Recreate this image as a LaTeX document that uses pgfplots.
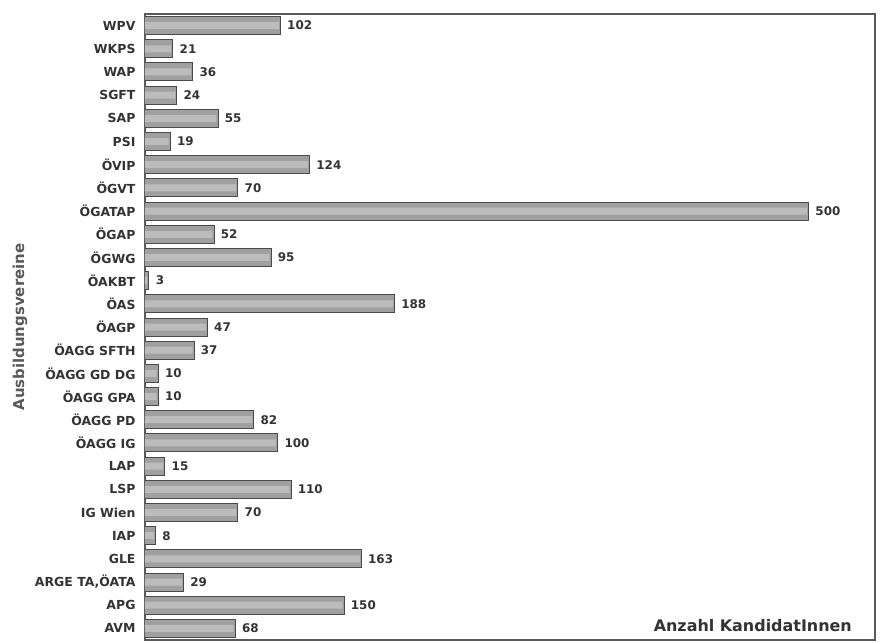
\documentclass[border=0pt]{standalone}
\usepackage{fontspec}
\setmainfont{DejaVu Sans}
\usepackage{pgfplots}
\usepackage{pgfplotstable}
\pgfplotsset{compat=1.18}

\definecolor{barfill}{HTML}{A0A0A0}
\definecolor{barlight}{HTML}{BCBCBC}
\definecolor{bardraw}{HTML}{4A4A4A}
\definecolor{framecol}{HTML}{5A5A5A}

% Anzahl KandidatInnen je Ausbildungsverein (von oben nach unten)
\pgfplotstableread{
idx value
0 102
1 21
2 36
3 24
4 55
5 19
6 124
7 70
8 500
9 52
10 95
11 3
12 188
13 47
14 37
15 10
16 10
17 82
18 100
19 15
20 110
21 70
22 8
23 163
24 29
25 150
26 68
}\kandidaten

\begin{document}
\begin{tikzpicture}
\begin{axis}[
    name=ax,
    scale only axis,
    width=730bp, height=626bp,
    xmin=0, xmax=550,
    ymin=-0.5, ymax=26.5,
    y dir=reverse,
    xtick=\empty,
    ytick={0,...,26},
    yticklabels={WPV,WKPS,WAP,SGFT,SAP,PSI,ÖVIP,ÖGVT,ÖGATAP,ÖGAP,ÖGWG,ÖAKBT,ÖAS,ÖAGP,ÖAGG SFTH,ÖAGG GD DG,ÖAGG GPA,ÖAGG PD,ÖAGG IG,LAP,LSP,IG Wien,IAP,GLE,{ARGE TA,ÖATA},APG,AVM},
    major tick length=0pt,
    yticklabel style={font=\fontsize{12.5}{13}\selectfont\bfseries, text=black!80, xshift=-6bp},
    axis line style={draw=framecol, line width=1.4pt},
    ylabel={Ausbildungsvereine},
    every axis y label/.style={at={(rel axis cs:0,0.5)}, xshift=-125bp, rotate=90, anchor=center,
        font=\fontsize{15}{16}\selectfont\bfseries, text=black!65},
    xbar,
    bar width=18bp,
    /pgf/number format/assume math mode=true,
]
\addplot[draw=bardraw, line width=1pt, fill=barfill, bar shift=0pt,
    nodes near coords,
    nodes near coords align=horizontal,
    every node near coord/.append style={anchor=west, font=\fontsize{12}{13}\selectfont\bfseries, text=black!80, xshift=3bp},
    point meta=explicit]
    table[x=value, y=idx, meta=value] {\kandidaten};
% hellerer Glanzstreifen in jedem Balken
\addplot[draw=none, fill=barlight, bar width=7bp, bar shift=0pt]
    table[x expr=\thisrow{value}-1.2, y=idx] {\kandidaten};
\node[anchor=south east, font=\fontsize{16}{17}\selectfont\bfseries, text=black!80]
    at (rel axis cs:0.973,0.008) {Anzahl KandidatInnen};
\end{axis}
\path ([xshift=-145bp,yshift=-3bp]ax.south west) rectangle ([xshift=18bp,yshift=14bp]ax.north east);
\end{tikzpicture}
\end{document}
